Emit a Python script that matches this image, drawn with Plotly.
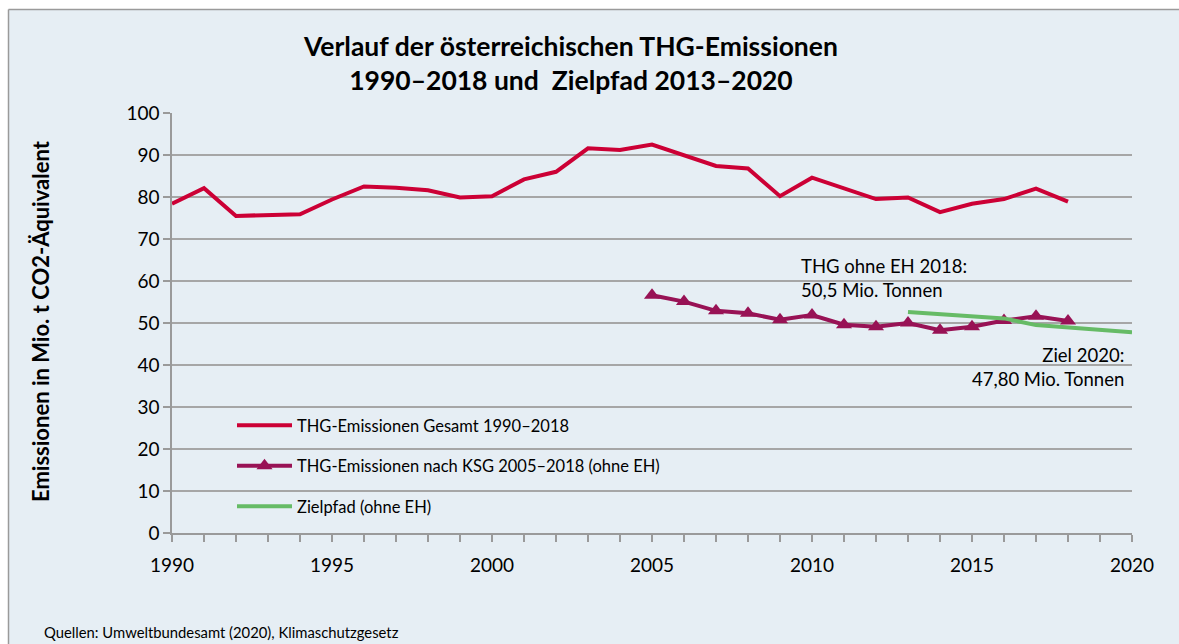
import plotly.graph_objects as go

years_total = list(range(1990, 2019))
total = [78.4, 82.1, 75.5, 75.7, 75.9, 79.4, 82.5, 82.2, 81.6, 79.9, 80.2,
         84.2, 86.0, 91.6, 91.2, 92.5, 89.9, 87.4, 86.8, 80.2, 84.6,
         82.1, 79.5, 79.9, 76.4, 78.4, 79.5, 82.0, 78.9]

years_ksg = list(range(2005, 2019))
ksg = [56.6, 55.1, 52.9, 52.3, 50.8, 51.9, 49.6, 49.1, 50.0, 48.3, 49.1, 50.6, 51.6, 50.5]

years_ziel = list(range(2013, 2021))
ziel = [52.6, 52.1, 51.6, 51.1, 49.5, 48.9, 48.4, 47.8]

names = ["THG-Emissionen Gesamt 1990–2018",
         "THG-Emissionen nach KSG 2005–2018 (ohne EH)",
         "Zielpfad (ohne EH)"]

FONT = "Lato"
W, H = 1179, 644
L, R, T, B = 172, 47, 113, 111
pw, ph = W - L - R, H - T - B


def px_x(p):  # page px -> paper x
    return (p - L) / pw


def px_y(p):  # page px -> paper y
    return (H - B - p) / ph


bg = "#E6EEF4"
fig = go.Figure()
fig.add_trace(go.Scatter(x=years_total, y=total, mode="lines", name=names[0],
                         line=dict(color="#CC0035", width=4), legendgroup="a"))
fig.add_trace(go.Scatter(x=years_ksg, y=ksg, mode="lines+markers", name=names[1],
                         line=dict(color="#981255", width=4),
                         marker=dict(symbol="triangle-up", size=14, color="#981255"),
                         legendgroup="b"))
fig.add_trace(go.Scatter(x=years_ziel, y=ziel, mode="lines", name=names[2],
                         line=dict(color="#66BB66", width=4), legendgroup="c"))

# frame background + left/top edges
fig.add_shape(type="rect", xref="paper", yref="paper",
              x0=px_x(8.5), x1=px_x(W + 5), y0=px_y(H + 5), y1=px_y(9.5),
              fillcolor=bg, line=dict(width=0), layer="below")
fig.add_shape(type="line", xref="paper", yref="paper",
              x0=px_x(8.5), x1=px_x(8.5), y0=px_y(H + 5), y1=px_y(9.5),
              line=dict(color="#9A9A9A", width=1.5), layer="below")
fig.add_shape(type="line", xref="paper", yref="paper",
              x0=px_x(8.5), x1=px_x(W + 5), y0=px_y(9.5), y1=px_y(9.5),
              line=dict(color="#9A9A9A", width=1.5), layer="below")

fig.add_annotation(x=px_x(570), y=px_y(63.5), xref="paper", yref="paper",
                   xanchor="center", yanchor="middle", align="center",
                   text="<b>Verlauf der österreichischen THG-Emissionen<br>1990–2018 und  Zielpfad 2013–2020</b>",
                   showarrow=False, font=dict(family=FONT, size=26.5, color="#000"))
fig.add_annotation(x=2009.6, y=60.6, xref="x", yref="y", xanchor="left", align="left",
                   text="THG ohne EH 2018:<br>50,5 Mio. Tonnen", showarrow=False,
                   font=dict(family=FONT, size=18.5, color="#000"))
fig.add_annotation(x=2019.8, y=39.6, xref="x", yref="y", xanchor="right", align="right",
                   text="Ziel 2020:<br>47,80 Mio. Tonnen", showarrow=False,
                   font=dict(family=FONT, size=18.5, color="#000"))
fig.add_annotation(x=px_x(42), y=px_y(632), xref="paper", yref="paper",
                   xanchor="left", yanchor="middle",
                   text="Quellen: Umweltbundesamt (2020), Klimaschutzgesetz", showarrow=False,
                   font=dict(family=FONT, size=14.8, color="#000"))
fig.add_annotation(x=px_x(40), y=px_y(321), xref="paper", yref="paper",
                   xanchor="center", yanchor="middle", textangle=-90,
                   text="<b>Emissionen in Mio. t CO2-Äquivalent</b>", showarrow=False,
                   font=dict(family=FONT, size=22, color="#000"))

fig.update_layout(
    width=W, height=H,
    margin=dict(l=L, r=R, t=T, b=B),
    paper_bgcolor="white", plot_bgcolor="rgba(0,0,0,0)",
    font=dict(family=FONT, color="#000"),
    showlegend=True,
    legend=dict(x=px_x(232), y=px_y(408), xanchor="left", yanchor="top",
                bgcolor="rgba(0,0,0,0)", font=dict(family=FONT, size=16.5, color="#000"),
                tracegroupgap=16, itemwidth=55),
)
fig.update_xaxes(range=[1990, 2020], dtick=5, tick0=1990, showgrid=False,
                 showline=True, linecolor="#9A9A9A", linewidth=1.5,
                 ticks="outside", ticklen=7, tickcolor="#9A9A9A", tickwidth=1.5,
                 minor=dict(dtick=1, ticks="outside", ticklen=7, tickcolor="#9A9A9A", tickwidth=1.5),
                 tickfont=dict(family=FONT, size=19, color="#000"), ticklabelstandoff=7,
                 zeroline=False)
fig.update_yaxes(range=[0, 100], dtick=10, showgrid=True, gridcolor="#A6A6A6", gridwidth=1.5,
                 showline=True, linecolor="#9A9A9A", linewidth=1.5,
                 ticks="outside", ticklen=7, tickcolor="#9A9A9A", tickwidth=1.5,
                 tickfont=dict(family=FONT, size=19, color="#000"), zeroline=False)

fig.write_html("out.html", config={"displayModeBar": False},
               post_script="document.body.style.margin='0';document.body.style.overflow='hidden';")
